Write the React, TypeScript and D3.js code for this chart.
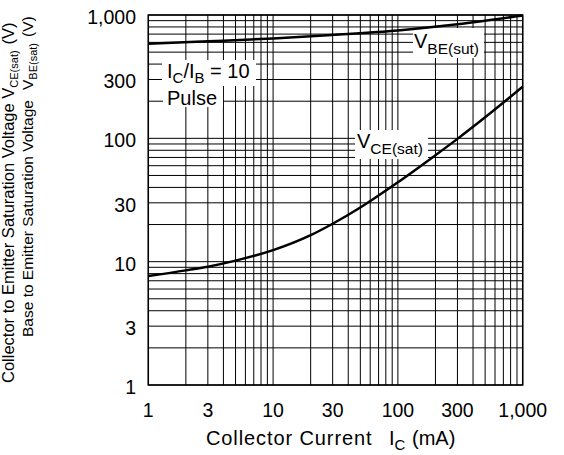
import React from "react";
import * as d3 from "d3";

// ---- data ----
const xTickValues = [1, 3, 10, 30, 100, 300, 1000];
const xTickLabels = ["1", "3", "10", "30", "100", "300", "1,000"];
const yTickValues = [1, 3, 10, 30, 100, 300, 1000];
const yTickLabels = ["1", "3", "10", "30", "100", "300", "1,000"];
const gridDecades = [1, 10, 100];
const gridMultipliers = [1, 2, 3, 4, 5, 6, 7, 8, 9];

const vbeX = [1, 3, 10, 30, 100, 300, 1000];
const vbeY = [585, 612, 645, 690, 750, 840, 990];

const vceX = [1, 2, 3, 5, 10, 20, 30, 50, 100, 200, 300, 500, 1000];
const vceY = [7.65, 8.5, 9.1, 10.2, 12.4, 16.4, 20.3, 27.5, 44, 73, 99, 148, 262];

const W = 564;
const H = 455;
const L = 148.3;
const R = 522.7;
const T = 15;
const B = 385;

const FONT = "'Liberation Sans', Arial, Helvetica, sans-serif";

export default function App() {
  const x = d3.scaleLog().domain([1, 1000]).range([L, R]);
  const y = d3.scaleLog().domain([1, 1000]).range([B, T]);

  const gridVals: number[] = [];
  gridDecades.forEach((d) => gridMultipliers.forEach((m) => gridVals.push(d * m)));
  gridVals.push(1000);

  const line = d3
    .line<[number, number]>()
    .x((d) => x(d[0]))
    .y((d) => y(d[1]))
    .curve(d3.curveMonotoneX);

  const vbe = line(vbeX.map((v, i) => [v, vbeY[i]] as [number, number])) || "";
  const vce = line(vceX.map((v, i) => [v, vceY[i]] as [number, number])) || "";

  const boxes = [
    [162, 60, 256, 86],
    [163, 86, 223, 107],
    [355, 130, 428, 159],
    [413, 28, 484, 58],
  ];

  return (
    <svg
      width={W}
      height={H}
      viewBox={`0 0 ${W} ${H}`}
      style={{ position: "absolute", left: 0, top: 0, background: "#fff" }}
      fontFamily={FONT}
    >
      <rect x={0} y={0} width={W} height={H} fill="#fff" />
      {/* grid */}
      <g stroke="#000" strokeWidth={1}>
        {gridVals.map((v) => (
          <line key={"gx" + v} x1={x(v)} x2={x(v)} y1={T} y2={B} />
        ))}
        {gridVals.map((v) => (
          <line key={"gy" + v} x1={L} x2={R} y1={y(v)} y2={y(v)} />
        ))}
      </g>
      {/* label backgrounds */}
      {boxes.map((b, i) => (
        <rect key={"b" + i} x={b[0]} y={b[1]} width={b[2] - b[0]} height={b[3] - b[1]} fill="#fff" />
      ))}
      {/* frame */}
      <rect x={L} y={T} width={R - L} height={B - T} fill="none" stroke="#000" strokeWidth={1.5} />
      {/* curves */}
      <path d={vbe} fill="none" stroke="#000" strokeWidth={2.5} />
      <path d={vce} fill="none" stroke="#000" strokeWidth={2.5} />

      {/* tick labels */}
      <g fontSize={19.5} fill="#000">
        {xTickValues.map((v, i) => (
          <text key={"xt" + v} x={x(v)} y={417} textAnchor="middle">
            {xTickLabels[i]}
          </text>
        ))}
        {yTickValues.map((v, i) => (
          <text key={"yt" + v} x={136} y={y(v) + 9} textAnchor="end">
            {yTickLabels[i]}
          </text>
        ))}
      </g>

      {/* in-plot labels */}
      <text x={167} y={77.5} fontSize={20}>
        <tspan>I</tspan>
        <tspan fontSize={15} dy={5}>C</tspan>
        <tspan dy={-5}>/I</tspan>
        <tspan fontSize={15} dy={5}>B</tspan>
        <tspan dy={-5}> = 10</tspan>
      </text>
      <text x={167} y={105} fontSize={20}>Pulse</text>
      <text x={357} y={147.5} fontSize={20}>
        <tspan>V</tspan>
        <tspan fontSize={15.5} dy={6}>CE(sat)</tspan>
      </text>
      <text x={414} y={47.5} fontSize={20}>
        <tspan>V</tspan>
        <tspan fontSize={15.5} dy={6}>BE(sut)</tspan>
      </text>

      {/* x axis title */}
      <text x={206} y={445} fontSize={20}>
        <tspan letterSpacing={0.9}>Collector Current</tspan>
        <tspan x={389}>I</tspan>
        <tspan fontSize={15} dy={5}>C</tspan>
        <tspan x={412} dy={-5}>(mA)</tspan>
      </text>

      {/* y axis titles */}
      <text transform="translate(14,383) rotate(-90)" fontSize={16.5}>
        <tspan>Collector to Emitter Saturation Voltage V</tspan>
        <tspan fontSize={11} dy={4}>CE(sat)</tspan>
        <tspan dx={6} dy={-4}>(V)</tspan>
      </text>
      <text transform="translate(33,337) rotate(-90)" fontSize={15.5}>
        <tspan>Base to Emitter Saturation Voltage</tspan>
        <tspan dx={10}>V</tspan>
        <tspan fontSize={11} dy={4}>BE(sat)</tspan>
        <tspan dx={6} dy={-4}>(V)</tspan>
      </text>
    </svg>
  );
}
